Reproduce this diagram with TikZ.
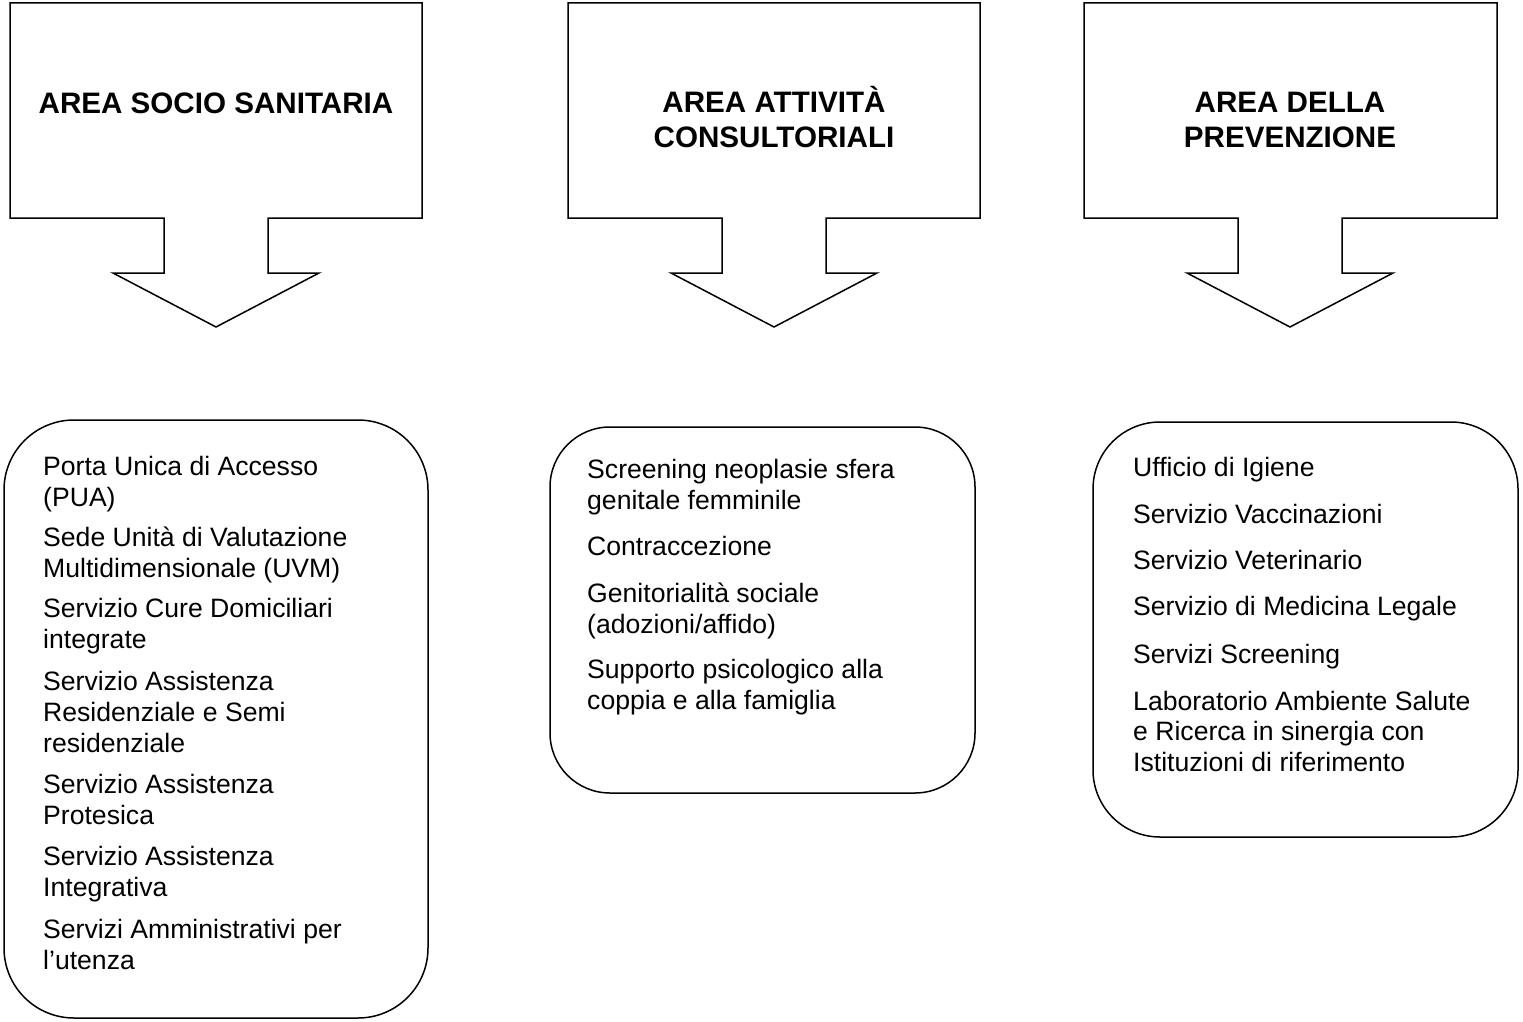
\documentclass[tikz,border=0pt]{standalone}
\usepackage{fontspec}
\setmainfont{Liberation Sans}
\begin{document}
\begin{tikzpicture}[x=1pt,y=-1pt,
  shapeline/.style={draw=black,line width=1.5pt,line join=miter},
  head/.style={font=\bfseries\fontsize{29.6}{34}\selectfont,anchor=base,inner sep=0pt},
  item/.style={font=\fontsize{26.6}{31}\selectfont,anchor=base west,inner sep=0pt},
  listbox/.style={draw=black,line width=1.5pt,inner sep=0pt}]
\useasboundingbox (0,0) rectangle (1523,1022);
% callouts
\newcommand\mycallout[3]{%
  \draw[shapeline] (#2,3) -- (#3,3) -- (#3,218) -- ({#1+52},218) -- ({#1+52},273)
    -- ({#1+103},273) -- (#1,327) -- ({#1-103},273) -- ({#1-52},273)
    -- ({#1-52},218) -- (#2,218) -- cycle;}
\mycallout{216}{10}{422}
\mycallout{774}{568}{980}
\mycallout{1290}{1084}{1497}
\node[head] (h1) at (216,114) {AREA SOCIO SANITARIA};
\node[head] (h2a) at (774,113) {AREA ATTIVITÀ};
\node[head] (h2b) at (774,148) {CONSULTORIALI};
\node[head] (h3a) at (1290,113) {AREA DELLA};
\node[head] (h3b) at (1290,148) {PREVENZIONE};
% list boxes
\draw[listbox,rounded corners=70pt] (4,420) rectangle (428,1018);
\draw[listbox,rounded corners=60pt] (550,427) rectangle (975,793);
\draw[listbox,rounded corners=67pt] (1093,422) rectangle (1518,837);
% box 1
\node[item] (a1) at (43,475) {Porta Unica di Accesso};
\node[item] (a2) at (43,506) {(PUA)};
\node[item] (a3) at (43,546) {Sede Unità di Valutazione};
\node[item] (a4) at (43,577) {Multidimensionale (UVM)};
\node[item] (a5) at (43,617) {Servizio Cure Domiciliari};
\node[item] (a6) at (43,648) {integrate};
\node[item] (a7) at (43,690) {Servizio Assistenza};
\node[item] (a8) at (43,721) {Residenziale e Semi};
\node[item] (a9) at (43,752) {residenziale};
\node[item] (a10) at (43,793) {Servizio Assistenza};
\node[item] (a11) at (43,824) {Protesica};
\node[item] (a12) at (43,865) {Servizio Assistenza};
\node[item] (a13) at (43,896) {Integrativa};
\node[item] (a14) at (43,938) {Servizi Amministrativi per};
\node[item] (a15) at (43,969) {l’utenza};
% box 2
\node[item] (b1) at (587,478) {Screening neoplasie sfera};
\node[item] (b2) at (587,509) {genitale femminile};
\node[item] (b3) at (587,555) {Contraccezione};
\node[item] (b4) at (587,602) {Genitorialità sociale};
\node[item] (b5) at (587,633) {(adozioni/affido)};
\node[item] (b6) at (587,678) {Supporto psicologico alla};
\node[item] (b7) at (587,709) {coppia e alla famiglia};
% box 3
\node[item] (c1) at (1133,476) {Ufficio di Igiene};
\node[item] (c2) at (1133,523) {Servizio Vaccinazioni};
\node[item] (c3) at (1133,569) {Servizio Veterinario};
\node[item] (c4) at (1133,615) {Servizio di Medicina Legale};
\node[item] (c5) at (1133,663) {Servizi Screening};
\node[item] (c6) at (1133,710) {Laboratorio Ambiente Salute};
\node[item] (c7) at (1133,740) {e Ricerca in sinergia con};
\node[item] (c8) at (1133,771) {Istituzioni di riferimento};
\end{tikzpicture}
\end{document}
